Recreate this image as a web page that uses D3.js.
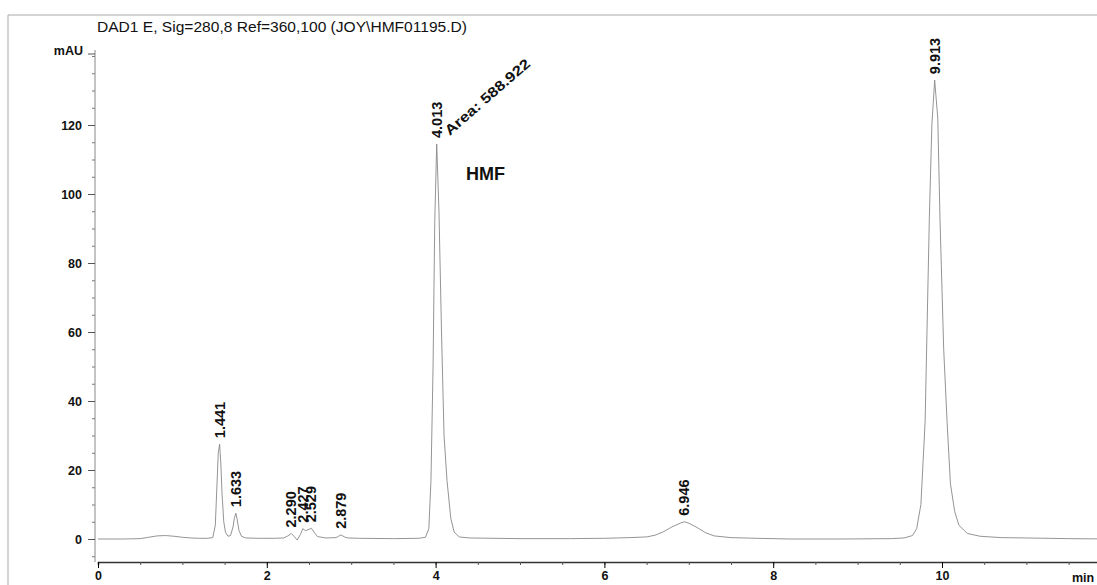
<!DOCTYPE html>
<html>
<head>
<meta charset="utf-8">
<script src="https://cdn.jsdelivr.net/npm/d3@7"></script>
<style>
  body { margin: 0; background: #fff; }
  svg { display: block; font-family: "Liberation Sans", Arial, sans-serif; }
</style>
</head>
<body>
<div id="chart"></div>
<script>
// Trace: retention time (min) and signal (mAU)
const times = [
  0, 0.3, 0.5, 0.6, 0.7, 0.8, 0.9, 1.0, 1.1, 1.2, 1.3, 1.36,
  1.39, 1.41, 1.425, 1.441, 1.455, 1.47, 1.49, 1.51, 1.54, 1.57,
  1.60, 1.615, 1.633, 1.65, 1.67, 1.70, 1.75, 1.9, 2.1, 2.2,
  2.25, 2.29, 2.33, 2.36, 2.40, 2.427, 2.46, 2.50, 2.529, 2.56, 2.60, 2.7,
  2.82, 2.85, 2.879, 2.92, 2.96, 3.1, 3.5, 3.8, 3.88,
  3.92, 3.945, 3.97, 3.99, 4.013, 4.04, 4.07, 4.10, 4.135, 4.18, 4.22, 4.28, 4.4,
  5.0, 5.6, 6.0, 6.3, 6.5, 6.6, 6.7, 6.8, 6.9, 6.946, 7.0, 7.1, 7.2, 7.3, 7.5, 7.8,
  8.2, 8.8, 9.4, 9.55, 9.65, 9.70, 9.75, 9.80, 9.85, 9.88, 9.913, 9.95, 9.976,
  10.02, 10.06, 10.10, 10.15, 10.2, 10.3, 10.45, 10.7, 11.0, 11.5, 12.0
];
const signal = [
  0, 0, 0.1, 0.5, 0.9, 1.0, 0.8, 0.5, 0.3, 0.2, 0.2, 0.4,
  4, 16, 25, 27.5, 22, 13, 5, 2, 0.8, 1,
  3.5, 6, 7.5, 5.5, 2.5, 0.8, 0.3, 0.2, 0.2, 0.3,
  0.9, 1.6, 0.6, -0.3, 1.4, 3, 2.4, 2.8, 3.1, 2, 0.7, 0.3,
  0.4, 0.8, 1.2, 0.6, 0.3, 0.2, 0.1, 0.2, 0.5,
  3, 17, 50, 92, 114.5, 95, 60, 30, 17, 6, 2, 0.6, 0.3,
  0.1, 0.1, 0.2, 0.4, 0.6, 1.1, 2.1, 3.5, 4.6, 5, 4.6, 3.3, 1.8, 0.9, 0.4, 0.2,
  0, 0, 0.1, 0.3, 1, 3, 10, 34, 93, 120, 133, 122, 93,
  55, 34, 16, 8, 4, 1.6, 0.8, 0.4, 0.3, 0.1, 0
];

// Peak labels
const peakTimes = [1.441, 1.633, 2.290, 2.427, 2.529, 2.879, 4.013, 6.946, 9.913];
const peakHeights = [27.5, 7.5, 1.6, 3, 3.1, 1.2, 114.5, 5, 133];
const peakLabels = ['1.441', '1.633', '2.290', '2.427', '2.529', '2.879', '4.013', '6.946', '9.913'];

const xMajor = [0, 2, 4, 6, 8, 10];
const yMajor = [0, 20, 40, 60, 80, 100, 120];

const title = 'DAD1 E, Sig=280,8 Ref=360,100 (JOY\\HMF01195.D)';

const width = 1097;
const height = 585;

const svg = d3.select('#chart').append('svg')
  .attr('width', width)
  .attr('height', height);

// outer frame (left and top edges visible)
svg.append('path')
  .attr('d', `M8,${height} V15 H${width}`)
  .attr('fill', 'none')
  .attr('stroke', '#aaa')
  .attr('stroke-width', 1);

const x = d3.scaleLinear().domain([0, 12]).range([98, 98 + 84.4 * 12]);
const y = d3.scaleLinear().domain([0, 120]).range([539, 125]);

const axisY0 = 562;   // pixel row of the time axis
const axisX0 = 95;    // pixel column of the signal axis

// x axis: minor ticks then major
svg.append('g')
  .attr('transform', `translate(0,${axisY0})`)
  .call(d3.axisBottom(x).tickValues(d3.range(0, 12.01, 0.5)).tickSize(3).tickFormat(''))
  .call(g => g.select('.domain').attr('stroke', '#333').attr('stroke-width', 1.5))
  .call(g => g.selectAll('line').attr('stroke', '#555'));

svg.append('g')
  .attr('transform', `translate(0,${axisY0})`)
  .call(d3.axisBottom(x).tickValues(xMajor).tickSize(6).tickPadding(3).tickFormat(d3.format('d')))
  .call(g => g.select('.domain').remove())
  .call(g => g.selectAll('text').attr('font-size', 12.5).attr('font-weight', 'bold')
    .attr('font-family', '"Liberation Sans", Arial, sans-serif').attr('fill', '#111'));

svg.append('text')
  .attr('x', 1072).attr('y', 582)
  .attr('font-size', 12.5).attr('font-weight', 'bold').attr('fill', '#111')
  .text('min');

// y axis
const yTop = y.invert(50);
const yBottom = y.invert(axisY0);
svg.append('g')
  .attr('transform', `translate(${axisX0},0)`)
  .call(d3.axisLeft(y).tickValues(d3.range(-5, 141, 5)).tickSize(3).tickFormat(''))
  .call(g => g.select('.domain').remove())
  .call(g => g.selectAll('line').attr('stroke', '#777'));

svg.append('line')
  .attr('x1', axisX0).attr('x2', axisX0)
  .attr('y1', y(yTop)).attr('y2', y(yBottom))
  .attr('stroke', '#888').attr('stroke-width', 1);

svg.append('g')
  .attr('transform', `translate(${axisX0},0)`)
  .call(d3.axisLeft(y).tickValues(yMajor).tickSize(7).tickPadding(6))
  .call(g => g.select('.domain').remove())
  .call(g => g.selectAll('line').attr('stroke', '#555'))
  .call(g => g.selectAll('text').attr('font-size', 12.5).attr('font-weight', 'bold')
    .attr('font-family', '"Liberation Sans", Arial, sans-serif').attr('fill', '#111'));

// mAU label with its tick
svg.append('line')
  .attr('x1', axisX0 - 7).attr('x2', axisX0)
  .attr('y1', y(yTop) + 4).attr('y2', y(yTop) + 4)
  .attr('stroke', '#555');
svg.append('text')
  .attr('x', 83).attr('y', y(yTop) + 1).attr('dy', '0.35em')
  .attr('text-anchor', 'end')
  .attr('font-size', 12.5).attr('font-weight', 'bold').attr('fill', '#111')
  .text('mAU');

// title
svg.append('text')
  .attr('x', 97).attr('y', 32)
  .attr('font-size', 14).attr('fill', '#111')
  .attr('textLength', 370).attr('lengthAdjust', 'spacingAndGlyphs')
  .text(title);

// trace
const trace = times.map((t, i) => [t, signal[i]]);
svg.append('path')
  .datum(trace)
  .attr('fill', 'none')
  .attr('stroke', '#888')
  .attr('stroke-width', 0.9)
  .attr('d', d3.line().x(d => x(d[0])).y(d => y(d[1])));

// peak labels, rotated vertical
peakTimes.forEach((t, i) => {
  const px = x(t);
  const py = y(peakHeights[i]) - 6;
  svg.append('text')
    .attr('transform', `translate(${px + 5},${py}) rotate(-90)`)
    .attr('font-size', 14.5).attr('font-weight', 'bold').attr('fill', '#111')
    .text(peakLabels[i]);
});

// area annotation for HMF peak
svg.append('text')
  .attr('transform', `translate(${x(4.013) + 13},${y(114.5) - 8}) rotate(-41)`)
  .attr('font-size', 14).attr('font-weight', 'bold').attr('fill', '#111')
  .attr('textLength', 108).attr('lengthAdjust', 'spacingAndGlyphs')
  .text('Area: 588.922');

svg.append('text')
  .attr('x', 466).attr('y', 180)
  .attr('font-size', 18).attr('font-weight', 'bold').attr('fill', '#111')
  .text('HMF');
</script>
</body>
</html>
